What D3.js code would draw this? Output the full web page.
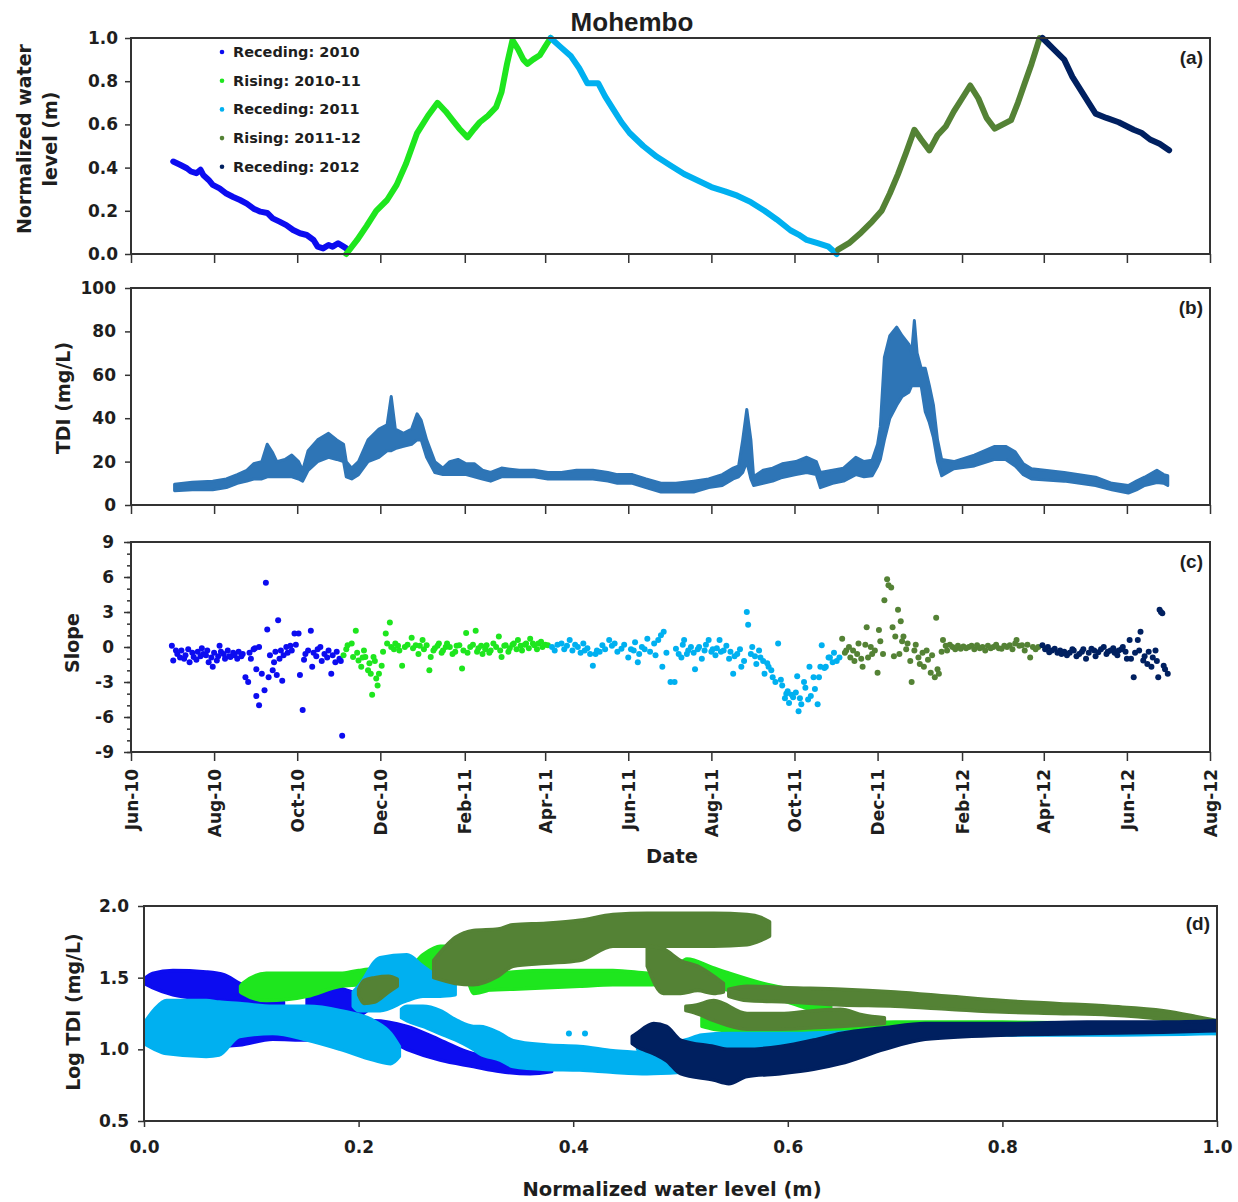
<!DOCTYPE html>
<html><head><meta charset="utf-8">
<script src="https://cdn.jsdelivr.net/npm/d3@7"></script>
<style>
body{margin:0;background:#fff;}
svg text{font-family:"DejaVu Sans",sans-serif;font-weight:bold;fill:#1e1e1e;}
</style></head><body>
<svg id="chart" width="1238" height="1202"></svg>
<script>
// ---------- DATA (day = days since 1 Jun 2010) ----------
const seriesNames = ["Receding: 2010","Rising: 2010-11","Receding: 2011","Rising: 2011-12","Receding: 2012"];
const seriesColors = ["#0c0cf0","#1ee61e","#00b0f0","#548235","#002060"];

const levelReceding2010 = [[31,0.428],[36,0.413],[41,0.397],[44,0.382],[48,0.374],[51,0.39],[53,0.366],[57,0.343],[60,0.32],[65,0.304],[70,0.28],[75,0.264],[80,0.25],[85,0.233],[90,0.21],[95,0.196],[100,0.19],[104,0.165],[109,0.15],[114,0.134],[119,0.111],[124,0.096],[129,0.088],[134,0.065],[137,0.034],[141,0.026],[145,0.042],[148,0.034],[152,0.05],[156,0.034],[158,0.026]];
const levelRising2010_11 = [[158,0.0],[166,0.065],[173,0.13],[180,0.2],[188,0.25],[195,0.32],[202,0.42],[210,0.56],[218,0.64],[225,0.7],[231,0.66],[236,0.62],[241,0.58],[247,0.54],[252,0.58],[256,0.61],[262,0.64],[268,0.68],[272,0.75],[276,0.88],[280,0.99],[284,0.95],[288,0.9],[291,0.88],[295,0.9],[300,0.92],[304,0.96],[308,1.0]];
const levelReceding2011 = [[308,1.0],[315,0.96],[323,0.915],[329,0.86],[335,0.79],[343,0.79],[348,0.73],[354,0.67],[360,0.61],[366,0.56],[376,0.5],[386,0.45],[396,0.41],[406,0.37],[416,0.34],[426,0.31],[436,0.29],[445,0.27],[455,0.24],[465,0.2],[474,0.16],[484,0.11],[490,0.09],[496,0.065],[504,0.05],[512,0.034],[518,0.0]];
const levelRising2011_12 = [[519,0.02],[527,0.05],[536,0.1],[544,0.15],[551,0.2],[557,0.28],[563,0.37],[569,0.47],[575,0.575],[580,0.53],[586,0.48],[592,0.55],[598,0.59],[604,0.66],[610,0.72],[616,0.78],[622,0.72],[628,0.63],[634,0.58],[640,0.6],[646,0.62],[651,0.7],[656,0.79],[661,0.88],[667,1.0]];
const levelReceding2012 = [[669,1.0],[677,0.95],[685,0.9],[691,0.82],[697,0.76],[703,0.7],[708,0.65],[716,0.63],[725,0.61],[736,0.575],[742,0.56],[748,0.53],[755,0.51],[762,0.48]];

// TDI band: [day, low, high]
const tdiBand = [[32,6.6,9.6],[45,7,10.5],[60,7,11],[70,8,12],[78,10,14],[85,11,16],[90,12,19],[96,12,20],[100,13,28],[104,13,24],[107,13,20],[113,13,21],[118,13,23],[123,12,20],[126,11,16],[130,16,25],[137,20,30],[145,22,33],[151,21,30],[156,20,28],[158,13,20],[162,12,17],[167,14,20],[174,20,30],[182,22,35],[188,25,37],[191,25,50],[194,26,35],[200,27,33],[206,28,35],[210,30,42],[213,30,39],[217,22,30],[223,15,20],[229,14,17],[234,14,20],[240,14,21],[246,14,19],[252,13,19],[258,12,16],[264,11,15],[272,13,17],[285,13,16],[296,13,16],[306,12,15],[316,12,15],[327,12,16],[339,12,16],[350,11,15],[357,10,14],[368,10,14],[378,8,12],[389,6,10],[400,6,10],[413,6,11],[424,8,12],[434,9,14],[442,12,17],[446,13,18],[449,15,30],[452,20,44],[455,12,30],[457,9,13],[464,10,16],[471,11,17],[478,12.7,19],[488,14,20],[496,15,22],[503,14,20],[506,8,15],[515,10,16],[523,11,17],[532,14,22],[538,13,20],[544,13.5,20.6],[548,18,28],[550,21,36],[553,30,68],[557,40,78],[562,46,82],[566,50,78],[571,52,74],[573,55,70],[575,55,85],[577,55,70],[580,55,63],[583,43,63],[586,38,55],[589,31,46],[592,20,30],[595,13.5,21],[604,16.7,20],[619,18,23],[634,21,27],[642,21,27],[649,18,24.5],[655,14,19],[661,12,16.7],[685,11,15],[708,9,12.8],[720,7,10],[732,5.5,9],[738,7,11],[744,9,12.8],[753,10.4,16],[758,10,14],[761,9,13.5]];

// Slope: [day, slope]
const slopeReceding2010 = [[30,0.1],[31,-1.15],[33,-0.3],[34,-0.6],[36,-0.9],[37,-0.3],[39,-1.0],[40,-0.7],[42,-0.2],[43,-1.3],[45,-0.5],[46,-0.85],[48,-1.1],[49,-0.4],[51,-0.8],[52,-0.1],[53,-0.6],[55,-0.7],[56,-0.3],[57,-1.3],[59,-0.9],[60,-1.7],[61,-0.5],[63,-1.15],[64,-0.8],[65,0.1],[66,-0.4],[68,-0.6],[69,-1.0],[71,-0.3],[72,-0.8],[73,-0.85],[75,-0.5],[76,-0.7],[78,-1.0],[79,-0.4],[81,-0.8],[82,-0.6],[84,-2.6],[86,-3.0],[87,-0.5],[88,-1.0],[90,-0.2],[91,-0.1],[92,-1.9],[92,-4.2],[94,-5.0],[94,0],[96,-2.3],[98,-3.7],[99,5.5],[100,1.5],[101,-2.6],[102,-0.7],[104,-2.0],[105,-1.3],[106,-0.4],[107,-2.4],[108,2.3],[109,-1.0],[110,-0.3],[111,-2.9],[112,-0.7],[114,0],[115,-0.5],[117,0.1],[118,-0.3],[120,1.15],[121,0.2],[123,1.15],[124,-2.4],[126,-5.4],[127,-1.1],[128,-0.6],[130,-0.3],[132,1.4],[133,-1.7],[134,-0.5],[136,-0.8],[137,-0.2],[139,0],[140,-1.2],[142,-0.6],[144,-0.9],[145,-0.3],[147,-2.3],[148,-0.7],[150,-1.3],[151,-0.4],[153,-1.0],[154,-1.2],[155,-7.6]];
const slopeRising2010_11 = [[156,-0.7],[158,-0.2],[159,0.15],[162,0.3],[163,-0.85],[165,1.4],[166,-0.5],[167,-1.15],[169,-1.7],[170,-0.9],[171,-0.3],[172,-0.85],[174,-2.0],[175,-1.4],[176,-2.3],[177,-4.1],[178,-0.85],[179,-1.2],[180,-2.7],[181,-3.3],[182,-2.3],[184,-1.6],[185,-0.4],[187,1.15],[188,0.3],[190,2.1],[191,0],[193,-0.2],[194,0.3],[196,0.1],[197,-0.3],[199,-1.6],[201,0],[203,0.2],[206,0.8],[207,-0.1],[209,0.15],[211,-0.6],[212,0.1],[214,0.6],[215,-0.2],[217,0.15],[219,-2.0],[220,-0.85],[222,-0.3],[223,-0.1],[225,0.1],[226,0.3],[228,-0.5],[229,-0.3],[231,0],[232,0.3],[234,0],[236,-0.6],[238,-0.4],[239,0.1],[241,0.15],[243,-1.85],[244,-0.3],[246,1.2],[247,-0.5],[249,0],[251,0.2],[253,1.4],[254,-0.4],[255,-0.1],[257,0.1],[258,-0.6],[260,-0.2],[261,0.15],[263,-0.5],[264,-0.3],[266,0.3],[268,0],[270,0.9],[271,-0.3],[272,-0.85],[274,0.1],[275,0.15],[277,-0.4],[278,-0.1],[280,0.2],[281,0.3],[283,-0.2],[284,0.6],[286,0.1],[287,-0.3],[289,0.2],[290,0.3],[292,-0.1],[293,0.7],[295,0.3],[296,0.15],[298,-0.2],[299,0.3],[301,0.45],[302,0],[304,0.2],[306,0.15]];
const slopeReceding2011 = [[309,0],[311,-0.3],[313,0.2],[316,0.3],[318,-0.2],[320,0.1],[322,0.6],[324,-0.3],[326,0.2],[328,0],[330,-0.5],[332,0.3],[333,-0.3],[335,-0.1],[337,-0.6],[339,-1.6],[341,-0.6],[342,-0.3],[344,-0.4],[346,0.15],[348,-0.2],[351,0.6],[353,0.1],[355,0.3],[357,-0.4],[360,-0.15],[362,0.2],[365,-0.9],[367,-0.2],[369,-0.3],[370,0.4],[372,-1.3],[373,-0.6],[375,0],[377,-0.2],[379,0.7],[381,-0.4],[384,0.3],[385,-0.7],[387,0.6],[389,1.0],[390,-1.7],[391,1.3],[393,-0.5],[396,-3.0],[399,-3.0],[400,-0.15],[402,-0.6],[404,-0.9],[405,0.2],[406,0.6],[408,-0.6],[409,-0.3],[411,0],[413,-0.5],[414,-1.9],[416,-0.2],[417,0],[419,-1.0],[421,-0.3],[422,0.2],[424,0.6],[426,-0.4],[427,-0.2],[429,-0.7],[430,-0.1],[432,0.6],[433,-0.4],[435,-0.3],[437,0.1],[439,-1.0],[440,-0.4],[442,-2.3],[443,-0.8],[445,-0.6],[447,-0.2],[448,-1.7],[450,-1.2],[452,3.0],[453,1.9],[455,-0.6],[456,0],[458,-0.8],[459,-1.45],[461,-0.3],[462,-0.9],[464,-1.2],[465,-2.3],[467,-1.4],[468,-1.7],[470,-2.0],[471,-2.6],[473,-3.0],[475,0.3],[477,-2.8],[478,-3.3],[480,-4.4],[481,-4.0],[482,-3.8],[483,-4.8],[485,-4.1],[486,-4.3],[488,-3.9],[489,-2.5],[490,-5.5],[491,-4.4],[492,-4.9],[494,-3.0],[495,-3.5],[497,-4.5],[498,-1.7],[499,-4.2],[501,-2.6],[502,-3.6],[504,-4.9],[505,-2.6],[506,-1.7],[507,0.15],[509,-1.8],[510,-1.7],[512,-0.9],[513,-0.9],[515,-1.3],[516,-0.5],[518,-1.2],[520,-0.9]];
const slopeRising2011_12 = [[522,0.7],[524,-0.5],[525,-0.3],[527,0],[528,-0.9],[530,-0.3],[531,-1.2],[533,-0.6],[534,0.3],[536,-1.0],[537,-1.7],[539,0.2],[540,1.7],[541,-0.9],[543,0],[544,-0.6],[546,-0.3],[548,-2.2],[549,1.45],[550,0.5],[552,-0.6],[553,4.0],[555,5.8],[556,5.3],[558,5.1],[559,1.7],[560,-0.8],[561,0.9],[563,3.2],[564,-0.6],[565,2.2],[566,0.5],[567,0.9],[569,-0.2],[570,0.3],[572,-1.2],[573,-3.0],[575,-0.3],[576,0.2],[578,-0.9],[579,-1.45],[581,-0.5],[582,-1.7],[584,-0.3],[585,-1.1],[587,-2.2],[588,-0.7],[590,-2.6],[591,2.5],[592,-1.9],[593,-2.3],[595,-0.4],[596,0.6],[598,0.1],[599,-0.3],[601,0.2],[603,0],[605,-0.2],[607,0.1],[609,-0.15],[611,0.05],[613,-0.1],[615,0],[617,0.1],[619,-0.2],[621,0.15],[623,-0.1],[625,0],[627,-0.3],[629,0.1],[631,-0.1],[633,0],[635,0.2],[637,-0.1],[639,-0.15],[641,0.1],[643,0],[645,0.15],[647,-0.2],[649,0.3],[650,0.6],[652,0.1],[654,0.15],[656,-0.3],[658,0.2],[660,-0.9],[662,0],[664,-0.2],[666,0]];
const slopeReceding2012 = [[669,0.15],[671,-0.2],[673,0],[674,-0.45],[676,-0.3],[678,-0.15],[680,-0.5],[682,-0.3],[683,-0.6],[685,-0.4],[687,-0.7],[689,-0.5],[691,-0.2],[692,-0.3],[694,-0.8],[696,-0.6],[698,-0.4],[699,-0.2],[701,-1.0],[703,-0.5],[705,-0.15],[707,-0.3],[708,-0.8],[710,-0.45],[712,-0.2],[714,0],[716,-0.6],[717,-0.4],[719,-0.3],[721,-0.1],[722,-0.5],[724,-0.7],[725,-0.3],[727,-0.2],[728,0],[730,-0.4],[731,-1.0],[733,0.6],[734,-1.0],[736,-2.6],[737,-0.5],[739,0.6],[740,-0.3],[741,1.3],[743,-1.15],[744,-0.8],[746,-1.45],[747,-0.4],[749,-1.7],[750,-0.9],[752,-0.3],[753,-1.2],[754,-2.6],[755,3.2],[756,3.0],[757,2.9],[758,-1.6],[759,-1.9],[761,-2.3]];

// Panel (d) point clouds, read as bands: [normalized level, low log TDI, high log TDI]
const cloudReceding2010 = [
 [[0.0,1.46,1.49],[0.008,1.43,1.53],[0.027,1.38,1.55],[0.058,1.35,1.54],[0.075,1.34,1.52],[0.089,1.33,1.46],[0.105,1.31,1.42],[0.12,1.30,1.37],[0.13,1.31,1.33]],
 [[0.152,1.30,1.38],[0.158,1.26,1.43],[0.167,1.20,1.45],[0.19,1.20,1.41],[0.2,1.23,1.38],[0.208,1.27,1.33]],
 [[0.062,1.05,1.08],[0.066,1.02,1.11],[0.089,1.03,1.10],[0.12,1.07,1.10],[0.152,1.065,1.10],[0.183,1.07,1.12],[0.214,1.11,1.20],[0.245,1.0,1.16],[0.276,0.925,1.065],[0.307,0.88,0.97],[0.332,0.845,0.95],[0.36,0.83,0.9],[0.38,0.845,0.88]]
];
const cloudRising2010_11 = [
 [[0.02,1.2,1.23],[0.03,1.17,1.25],[0.045,1.17,1.22]],
 [[0.09,1.40,1.44],[0.092,1.39,1.46],[0.114,1.34,1.53],[0.152,1.37,1.53],[0.183,1.44,1.53],[0.2,1.45,1.55],[0.214,1.46,1.56],[0.245,1.46,1.56],[0.26,1.50,1.66],[0.276,1.51,1.72],[0.3,1.50,1.72],[0.307,1.39,1.55],[0.32,1.41,1.52]],
 [[0.313,1.41,1.52],[0.344,1.42,1.54],[0.375,1.43,1.55],[0.406,1.44,1.55],[0.437,1.45,1.55],[0.469,1.45,1.53],[0.49,1.46,1.52]],
 [[0.5,1.46,1.6],[0.506,1.46,1.63],[0.53,1.44,1.57],[0.546,1.41,1.53],[0.577,1.37,1.46],[0.6,1.33,1.42],[0.62,1.28,1.36],[0.64,1.24,1.31]],
 [[0.52,1.16,1.22],[0.531,1.14,1.25],[0.56,1.12,1.22],[0.593,1.09,1.18],[0.62,1.10,1.18],[0.649,1.12,1.18],[0.7,1.14,1.19],[0.8,1.15,1.19],[0.9,1.14,1.18],[1.0,1.11,1.16]]
];
const cloudReceding2011 = [
 [[0.0,1.04,1.18],[0.01,1.0,1.28],[0.021,0.97,1.34],[0.058,0.95,1.34],[0.07,0.96,1.33],[0.089,1.09,1.32],[0.12,1.11,1.30],[0.152,1.065,1.30],[0.183,1.0,1.27],[0.214,0.925,1.20],[0.23,0.90,1.11],[0.238,0.95,1.02]],
 [[0.195,1.30,1.40],[0.2,1.27,1.44],[0.22,1.27,1.64],[0.245,1.34,1.66],[0.26,1.37,1.58],[0.276,1.37,1.50],[0.29,1.38,1.46]],
 [[0.24,1.22,1.28],[0.245,1.20,1.30],[0.26,1.16,1.30],[0.276,1.11,1.27],[0.292,1.06,1.20],[0.307,1.0,1.16],[0.313,0.97,1.16],[0.332,0.925,1.11],[0.344,0.88,1.06],[0.375,0.86,1.03],[0.406,0.855,1.02],[0.437,0.84,0.99],[0.469,0.83,0.97],[0.5,0.84,0.92]],
 [[0.46,1.0,1.08],[0.5,0.98,1.06],[0.52,1.0,1.10],[0.545,1.02,1.11],[0.6,1.02,1.11],[0.65,1.05,1.12],[0.7,1.09,1.13],[0.8,1.10,1.14],[0.9,1.10,1.14],[1.0,1.11,1.15]]
];
const cloudRising2011_12 = [
 [[0.2,1.38,1.42],[0.205,1.32,1.48],[0.215,1.33,1.50],[0.228,1.40,1.51],[0.236,1.44,1.49]],
 [[0.27,1.50,1.62],[0.29,1.46,1.78],[0.307,1.45,1.83],[0.33,1.51,1.84],[0.344,1.58,1.87],[0.375,1.60,1.88],[0.406,1.62,1.90],[0.437,1.72,1.94],[0.469,1.72,1.95],[0.5,1.72,1.95],[0.531,1.72,1.95],[0.562,1.73,1.94],[0.575,1.76,1.92],[0.583,1.79,1.89]],
 [[0.469,1.58,1.72],[0.484,1.39,1.70],[0.5,1.39,1.62],[0.516,1.41,1.58],[0.531,1.39,1.51],[0.54,1.40,1.46]],
 [[0.545,1.37,1.42],[0.562,1.34,1.44],[0.6,1.33,1.43],[0.65,1.31,1.42],[0.7,1.30,1.40],[0.75,1.28,1.37],[0.8,1.26,1.34],[0.85,1.25,1.32],[0.9,1.24,1.30],[0.95,1.21,1.27],[0.98,1.18,1.23],[1.0,1.16,1.20]],
 [[0.505,1.27,1.30],[0.515,1.25,1.31],[0.531,1.20,1.34],[0.562,1.14,1.25],[0.593,1.14,1.25],[0.624,1.15,1.27],[0.649,1.16,1.28],[0.67,1.17,1.24],[0.69,1.18,1.22]]
];
const cloudReceding2012 = [
 [[0.455,1.04,1.09],[0.459,1.02,1.11],[0.475,0.97,1.18],[0.487,0.92,1.16],[0.5,0.83,1.065],[0.531,0.785,1.02],[0.545,0.76,1.0],[0.562,0.81,1.0],[0.593,0.83,1.02],[0.624,0.86,1.065],[0.649,0.9,1.11],[0.69,1.0,1.15],[0.728,1.07,1.18],[0.804,1.10,1.18],[0.879,1.11,1.19],[0.95,1.12,1.19],[1.0,1.13,1.20]]
];
const cloudDotsReceding2011 = [[0.396,1.11],[0.411,1.11]];

const dateTicks = ["2010-06-01","2010-08-01","2010-10-01","2010-12-01","2011-02-01","2011-04-01","2011-06-01","2011-08-01","2011-10-01","2011-12-01","2012-02-01","2012-04-01","2012-06-01","2012-08-01"];
const levelTicks = [0,0.2,0.4,0.6,0.8,1.0];
const tdiTicks = [0,20,40,60,80,100];
const slopeTicks = [-9,-6,-3,0,3,6,9];
const logTdiTicks = [0.5,1.0,1.5,2.0];
const wlTicks = [0,0.2,0.4,0.6,0.8,1.0];

// ---------- CHART ----------
const series = seriesNames.map((name,i)=>({
  name, color: seriesColors[i],
  level: [levelReceding2010,levelRising2010_11,levelReceding2011,levelRising2011_12,levelReceding2012][i],
  slope: [slopeReceding2010,slopeRising2010_11,slopeReceding2011,slopeRising2011_12,slopeReceding2012][i],
  cloud: [cloudReceding2010,cloudRising2010_11,cloudReceding2011,cloudRising2011_12,cloudReceding2012][i]
}));

const ORIGIN = Date.UTC(2010,5,1);
const dayToDate = d => new Date(ORIGIN + d*864e5);
const parseDay = d3.utcParse("%Y-%m-%d");
const svg = d3.select("#chart");
const AX = "#333";
const TICKFONT = 17;
const hyphen = f => (d => f(d).replace("\u2212","-"));

const X0 = 131, X1 = 1210;
const x = d3.scaleUtc().domain([parseDay(dateTicks[0]), parseDay(dateTicks[dateTicks.length-1])]).range([X0,X1]);
const monthTicks = dateTicks.map(parseDay);

const PA = {top:38,bottom:254}, PB = {top:288,bottom:505}, PC = {top:542,bottom:752};
const yA = d3.scaleLinear().domain([0,1]).range([PA.bottom,PA.top]);
const yB = d3.scaleLinear().domain([0,100]).range([PB.bottom,PB.top]);
const yC = d3.scaleLinear().domain([-9,9]).range([PC.bottom,PC.top]);
const DX0 = 144, DX1 = 1217, DTOP = 906, DBOT = 1121;
const xD = d3.scaleLinear().domain([0,1]).range([DX0,DX1]);
const yD = d3.scaleLinear().domain([0.5,2]).range([DBOT,DTOP]);

function styleAxis(g){
  g.select(".domain").remove();
  g.attr("font-family","DejaVu Sans, sans-serif").attr("font-size",TICKFONT).attr("font-weight","bold").attr("color",AX);
  g.selectAll(".tick line").attr("stroke-width",1.5);
  g.selectAll(".tick text").attr("fill","#1e1e1e");
  return g;
}
function frame(x0,y0,x1,y1){
  svg.append("rect").attr("x",x0).attr("y",y0).attr("width",x1-x0).attr("height",y1-y0)
    .attr("fill","none").attr("stroke",AX).attr("stroke-width",2);
}
function dateAxis(p, labels){
  const g = svg.append("g").attr("transform",`translate(0,${p.bottom})`)
    .call(d3.axisBottom(x).tickValues(monthTicks).tickSize(9).tickFormat(labels ? d3.utcFormat("%b-%y") : ""));
  styleAxis(g);
  if(labels){
    g.selectAll(".tick text").attr("transform","rotate(-90)").attr("text-anchor","end")
      .attr("x",-17).attr("y",0).attr("dy","0.36em");
  }
}
function panelLabel(txt,x,y){
  svg.append("text").attr("x",x).attr("y",y).attr("text-anchor","end")
    .style("font-family","'Liberation Sans', Arial, sans-serif").attr("font-size",19).text(txt);
}
function yTitle(lines,x,yc,size){
  lines.forEach((t,i)=>{
    svg.append("text").attr("transform",`translate(${x+i*26},${yc}) rotate(-90)`)
      .attr("text-anchor","middle").attr("dominant-baseline","central").attr("font-size",size||19).text(t);
  });
}

// Title
svg.append("text").attr("x",632).attr("y",31).attr("text-anchor","middle")
  .style("font-family","'Liberation Sans', Arial, sans-serif").attr("font-size",26).text("Mohembo");

// ---- Panel (a)
const lineA = d3.line().x(d=>x(dayToDate(d[0]))).y(d=>yA(d[1]));
series.forEach(s=>{
  svg.append("path").attr("d",lineA(s.level)).attr("fill","none").attr("stroke",s.color)
    .attr("stroke-width",6).attr("stroke-linejoin","round").attr("stroke-linecap","round");
});
styleAxis(svg.append("g").attr("transform",`translate(${X0},0)`)
  .call(d3.axisLeft(yA).tickValues(levelTicks).tickFormat(d3.format(".1f")).tickSize(6).tickPadding(7)));
dateAxis(PA,false);
frame(X0,PA.top,X1,PA.bottom);
panelLabel("(a)",1203,64);
yTitle(["Normalized water","level (m)"],24,139,19);
// legend
series.forEach((s,i)=>{
  const yy = 52 + i*28.7;
  svg.append("circle").attr("cx",222).attr("cy",yy).attr("r",2.3).attr("fill",s.color);
  svg.append("text").attr("x",233).attr("y",yy).attr("dominant-baseline","central")
    .attr("font-size",14.5).attr("fill","#333").text(s.name);
});

// ---- Panel (b)
const areaB = d3.area().x(d=>x(dayToDate(d[0]))).y0(d=>yB(d[1])).y1(d=>yB(d[2]));
svg.append("path").attr("d",areaB(tdiBand)).attr("fill","#2e75b6").attr("stroke","#2e75b6")
  .attr("stroke-width",3).attr("stroke-linejoin","round");
styleAxis(svg.append("g").attr("transform",`translate(${X0},0)`)
  .call(d3.axisLeft(yB).tickValues(tdiTicks).tickFormat(d3.format("d")).tickSize(6).tickPadding(9)));
dateAxis(PB,false);
frame(X0,PB.top,X1,PB.bottom);
panelLabel("(b)",1203,314);
yTitle(["TDI (mg/L)"],63,398,19);

// ---- Panel (c)
series.forEach(s=>{
  svg.append("g").selectAll("circle").data(s.slope).join("circle")
    .attr("cx",d=>x(dayToDate(d[0]))).attr("cy",d=>yC(d[1])).attr("r",3).attr("fill",s.color);
});
styleAxis(svg.append("g").attr("transform",`translate(${X0},0)`)
  .call(d3.axisLeft(yC).tickValues(d3.range(-9,10)).tickFormat("").tickSize(4)));
styleAxis(svg.append("g").attr("transform",`translate(${X0},0)`)
  .call(d3.axisLeft(yC).tickValues(slopeTicks).tickFormat(hyphen(d3.format("d"))).tickSize(7).tickPadding(10)));
dateAxis(PC,true);
frame(X0,PC.top,X1,PC.bottom);
panelLabel("(c)",1203,568);
yTitle(["Slope"],72,643,19);
svg.append("text").attr("x",672).attr("y",863).attr("text-anchor","middle").attr("font-size",19.5).text("Date");

// ---- Panel (d)
svg.append("clipPath").attr("id","clipD").append("rect")
  .attr("x",DX0).attr("y",DTOP).attr("width",DX1-DX0).attr("height",DBOT-DTOP);
const gD = svg.append("g").attr("clip-path","url(#clipD)");
const areaD = d3.area().curve(d3.curveMonotoneX).x(d=>xD(d[0])).y0(d=>yD(d[1])).y1(d=>yD(d[2]));
series.forEach((s,i)=>{
  s.cloud.forEach(band=>{
    gD.append("path").attr("d",areaD(band)).attr("fill",s.color).attr("stroke",s.color)
      .attr("stroke-width",3.5).attr("stroke-linejoin","round");
  });
  if(i===2){
    gD.append("g").selectAll("circle").data(cloudDotsReceding2011).join("circle")
      .attr("cx",d=>xD(d[0])).attr("cy",d=>yD(d[1])).attr("r",3).attr("fill",s.color);
  }
});
styleAxis(svg.append("g").attr("transform",`translate(${DX0},0)`)
  .call(d3.axisLeft(yD).tickValues(logTdiTicks).tickFormat(d3.format(".1f")).tickSize(6).tickPadding(9)));
styleAxis(svg.append("g").attr("transform",`translate(0,${DBOT})`)
  .call(d3.axisBottom(xD).tickValues(wlTicks).tickFormat(d3.format(".1f")).tickSize(6).tickPadding(14)));
frame(DX0,DTOP,DX1,DBOT);
panelLabel("(d)",1210,930);
yTitle(["Log TDI (mg/L)"],73,1012,19);
svg.append("text").attr("x",672).attr("y",1196).attr("text-anchor","middle").attr("font-size",19.5)
  .text("Normalized water level (m)");
</script>
</body></html>
